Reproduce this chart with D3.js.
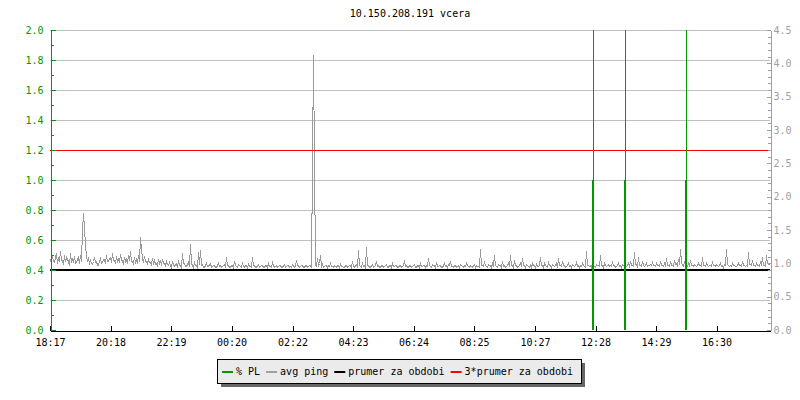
<!doctype html>
<html lang="en">
<head>
<meta charset="utf-8">
<title>10.150.208.191 vcera</title>
<script src="https://cdn.jsdelivr.net/npm/d3@7"></script>
<style>
  body { margin: 0; background: #fff; }
  svg { font-family: "DejaVu Sans Mono", monospace; font-size: 10px; }
  .axis path, .axis line { shape-rendering: crispEdges; }
</style>
</head>
<body>
<svg id="chart" width="800" height="400"></svg>
<script>
// --- data ---
var title = "10.150.208.191 vcera";
// x tick labels and their offsets in minutes from 18:17
var tickLabels = ["18:17","20:18","22:19","00:20","02:22","04:23","06:24","08:25","10:27","12:28","14:29","16:30"];
var tickMinutes = [0, 121, 242, 363, 485, 606, 727, 848, 970, 1091, 1212, 1333];

// packet loss events (minutes from start, % PL)
var plMinutes = [1085, 1149, 1272];
var plValues = [1.0, 1.0, 1.0];

// avg ping (ms), one sample every 2 minutes
var pingStep = 2;
var pingValues = [
  1.06,1.01,1.12,1.04,1.02,1.09,1.15,1.00,1.08,1.03,1.18,1.05,1.05,0.99,1.12,1.03,1.10,1.06,1.04,0.98,
  1.15,1.02,1.07,1.04,1.11,1.00,1.02,1.06,1.09,1.01,1.13,1.03,1.50,1.76,1.55,1.28,1.12,1.04,1.08,1.01,
  1.05,1.00,0.99,1.04,1.10,1.02,1.04,0.98,0.97,1.03,1.08,1.01,1.02,1.06,1.06,1.00,1.12,1.04,1.03,1.08,
  1.09,1.02,1.16,1.05,1.05,1.00,1.11,1.03,1.07,1.02,1.14,1.06,1.03,1.00,1.10,1.04,1.06,1.01,1.13,1.05,
  1.18,1.03,1.04,1.00,1.09,1.02,1.06,1.01,1.12,1.03,1.40,1.22,1.08,1.02,1.11,1.04,1.03,1.00,1.07,1.02,
  1.02,0.99,1.08,1.01,1.05,0.99,1.01,0.98,1.06,1.00,1.03,0.99,1.07,1.00,1.00,0.97,1.04,0.99,0.98,1.02,
  0.98,0.95,1.03,0.97,0.96,0.99,1.01,0.95,1.05,0.98,0.97,0.95,1.15,1.00,1.00,0.96,0.96,0.99,1.02,0.96,
  1.29,1.00,0.98,0.95,1.02,0.97,0.97,0.95,1.17,0.99,1.20,0.97,0.99,0.95,0.95,0.98,1.01,0.96,0.96,0.99,
  1.00,0.95,0.96,0.98,0.98,0.95,0.95,0.97,1.01,0.96,0.97,0.95,0.96,0.98,0.99,0.95,1.10,0.97,0.97,0.95,
  0.95,0.97,0.98,0.95,1.04,0.97,0.96,0.95,0.99,0.97,0.96,0.95,1.00,0.96,0.95,0.98,0.97,0.95,0.99,0.96,
  0.96,0.95,1.09,0.97,0.97,0.95,0.95,0.98,0.99,0.95,0.96,0.97,0.98,0.95,0.95,0.97,0.97,0.95,1.00,0.96,
  0.96,0.95,1.02,0.97,0.95,0.96,0.98,0.95,0.96,0.97,0.97,0.95,0.95,0.98,0.99,0.95,0.96,0.97,0.98,0.95,
  0.96,0.95,0.99,0.97,0.95,0.96,1.05,0.97,0.97,0.95,0.96,0.98,0.98,0.95,0.95,0.97,0.97,0.95,0.96,0.98,
  0.98,0.95,2.52,4.12,2.52,0.97,0.96,1.08,0.97,1.00,1.13,0.96,0.99,0.95,0.96,0.97,0.98,0.95,0.97,0.96,
  1.00,0.96,0.96,0.95,0.98,0.96,0.95,0.97,0.97,0.95,0.99,0.96,0.96,0.95,0.95,0.97,0.98,0.95,0.96,0.97,
  0.97,0.95,1.03,0.96,0.95,0.98,0.99,0.95,1.20,0.97,0.96,0.95,1.00,0.96,0.98,0.95,1.25,0.98,0.97,0.95,
  0.95,0.97,0.99,0.95,0.96,0.98,1.03,0.96,0.97,0.95,0.95,0.98,0.98,0.95,0.96,0.97,0.99,0.95,0.95,0.97,
  0.97,0.95,1.00,0.96,0.96,0.97,0.98,0.95,0.95,0.97,0.97,0.95,0.96,0.98,1.05,0.96,0.97,0.95,0.95,0.98,
  0.98,0.95,0.96,0.97,0.99,0.95,0.95,0.98,0.97,0.95,1.00,0.96,0.96,0.97,0.98,0.95,0.97,0.96,1.08,0.97,
  0.96,0.95,0.99,0.97,0.97,0.95,1.02,0.96,0.96,0.98,0.98,0.95,0.95,0.97,1.00,0.96,0.97,0.95,0.99,0.97,
  1.03,0.96,0.96,0.95,0.98,0.97,0.95,0.96,0.97,0.95,0.99,0.97,0.96,0.95,0.98,0.96,1.00,0.97,0.96,0.95,
  0.97,0.96,0.95,0.98,0.99,0.95,0.97,0.96,0.96,0.95,1.21,0.98,0.98,0.96,1.02,0.97,0.96,0.95,0.99,0.97,
  0.97,0.95,1.00,0.97,1.12,0.98,0.96,0.95,0.99,0.97,0.97,0.95,1.03,0.96,0.98,0.95,0.96,0.97,1.01,0.96,
  1.12,0.98,0.97,0.95,1.05,0.97,0.98,0.95,0.96,0.98,1.00,0.96,1.08,0.97,0.97,0.95,0.99,0.97,0.96,0.95,
  0.98,0.95,1.01,0.97,0.97,0.95,0.99,0.96,0.96,0.98,1.09,0.97,0.98,0.95,1.00,0.97,0.96,0.95,1.02,0.97,
  0.97,0.95,0.99,0.97,0.96,0.98,1.00,0.95,1.08,0.97,0.97,0.96,1.03,0.97,0.98,0.95,0.96,0.98,1.00,0.96,
  0.97,0.95,0.99,0.97,0.96,0.98,1.02,0.96,0.98,0.95,0.97,0.96,1.00,0.97,0.96,0.95,1.18,0.98,0.98,0.96,
  0.97,0.95,1.01,0.97,0.96,0.95,0.99,0.97,0.98,0.96,1.12,0.98,0.97,0.95,1.00,0.97,0.96,0.98,0.99,0.96,
  0.97,0.96,1.02,0.97,0.98,0.95,0.96,0.98,1.00,0.96,0.97,0.95,0.99,0.97,0.98,0.96,0.96,0.97,1.01,0.96,
  1.04,0.97,0.97,0.96,1.17,0.99,0.99,0.96,1.10,0.98,0.98,0.96,1.03,0.97,0.96,0.98,1.00,0.96,0.98,0.97,
  0.99,0.97,1.02,0.98,0.97,0.96,1.00,0.97,0.98,0.96,1.04,0.98,0.97,0.96,1.01,0.98,1.08,0.97,0.98,0.96,
  1.03,0.98,0.97,0.96,1.05,0.99,1.00,0.97,1.06,0.99,1.21,1.02,0.98,0.96,1.04,0.98,0.97,0.96,1.00,0.97,
  1.05,0.98,0.97,0.96,0.99,0.97,0.96,0.98,1.01,0.97,0.98,0.96,1.10,0.98,0.97,0.96,1.00,0.97,0.96,0.98,
  0.98,0.96,1.02,0.97,0.97,0.96,0.99,0.97,0.96,0.98,1.00,0.96,0.97,0.95,0.99,0.97,1.21,0.99,0.98,0.96,
  0.97,0.96,1.01,0.97,0.98,0.96,0.96,0.98,1.00,0.97,0.97,0.96,1.03,0.98,0.98,0.96,0.97,0.96,1.17,0.99,
  0.99,0.97,1.05,0.98,0.97,0.96,1.00,0.97,0.98,0.96,1.02,0.97,1.10,0.98,0.98,0.96,1.13,1.00,1.00,0.97
];
// period average of ping (ms)
var avgPing = 0.9;

var legendLabels = ["% PL", "avg ping", "prumer za obdobi", "3*prumer za obdobi"];
var legendColors = ["#009900", "#a0a0a0", "#000000", "#ff0000"];

// --- layout ---
var plotL = 50, plotR = 770, plotT = 30, plotB = 330;
var green = "#009900", grey = "#999999", gridColor = "#c0c0c0";

var svg = d3.select("#chart");

var x = d3.scaleLinear().domain([0, 1440]).range([plotL, plotR]);
var yL = d3.scaleLinear().domain([0, 2]).range([plotB, plotT]);
var yR = d3.scaleLinear().domain([0, 4.5]).range([plotB, plotT]);

// title
svg.append("text").attr("x", (plotL + plotR) / 2).attr("y", 17)
  .attr("text-anchor", "middle").attr("fill", "#000").text(title);

// grid
var majorL = d3.range(0, 21, 2).map(function(d) { return d / 10; });
svg.append("g").selectAll("line").data(majorL.filter(function(d) { return d > 0; }))
  .enter().append("line")
  .attr("x1", plotL).attr("x2", plotR)
  .attr("y1", function(d) { return Math.round(yL(d)) + 0.5; })
  .attr("y2", function(d) { return Math.round(yL(d)) + 0.5; })
  .attr("stroke", gridColor);

// avg ping line (right axis), drawn aliased like the original
var line = d3.line()
  .x(function(d, i) { return Math.round(x(i * pingStep)) + 0.5; })
  .y(function(d) { return Math.round(yR(d)) + 0.5; });
svg.append("path").datum(pingValues)
  .attr("d", line).attr("fill", "none")
  .attr("stroke", grey).attr("stroke-width", 1)
  .style("shape-rendering", "crispEdges");

// mean and 3*mean
svg.append("line").attr("x1", plotL).attr("x2", plotR)
  .attr("y1", yR(avgPing)).attr("y2", yR(avgPing))
  .attr("stroke", "#000").attr("stroke-width", 2);
svg.append("line").attr("x1", plotL).attr("x2", plotR)
  .attr("y1", Math.round(yR(avgPing * 3)) + 0.5).attr("y2", Math.round(yR(avgPing * 3)) + 0.5)
  .attr("stroke", "#ff0000").attr("stroke-width", 1);

// packet loss
var pl = svg.append("g");
plMinutes.forEach(function(m, i) {
  var px = Math.round(x(m));
  pl.append("line").attr("x1", px + 0.5).attr("x2", px + 0.5)
    .attr("y1", plotT).attr("y2", yL(plValues[i]))
    .attr("stroke", green).attr("stroke-width", 1);
  pl.append("line").attr("x1", px).attr("x2", px)
    .attr("y1", yL(plValues[i])).attr("y2", plotB)
    .attr("stroke", green).attr("stroke-width", 2);
});

// left axis
var minorL = d3.range(0, 21).map(function(d) { return d / 10; });
var gl = svg.append("g").attr("class", "axis").attr("transform", "translate(" + (plotL + 0.5) + ",0)");
gl.call(d3.axisLeft(yL).tickValues(minorL).tickFormat("").tickSizeInner(-3).tickSizeOuter(0));
gl.append("g").call(d3.axisLeft(yL).tickValues(majorL).tickFormat(d3.format(".1f")).tickSizeInner(-5).tickSizeOuter(0).tickPadding(7));
gl.selectAll("path, line").attr("stroke", green);
gl.selectAll("text").attr("fill", green).style("font-size", "10px").style("font-family", "DejaVu Sans Mono, monospace");

// right axis
var minorR = d3.range(0, 46).map(function(d) { return d / 10; });
var majorR = d3.range(0, 10).map(function(d) { return d / 2; });
var gr = svg.append("g").attr("class", "axis").attr("transform", "translate(" + (plotR + 0.5) + ",0)");
gr.call(d3.axisRight(yR).tickValues(minorR).tickFormat("").tickSizeInner(-3).tickSizeOuter(0));
gr.append("g").call(d3.axisRight(yR).tickValues(majorR).tickFormat(d3.format(".1f")).tickSizeInner(-4).tickSizeOuter(0).tickPadding(3));
gr.selectAll("path, line").attr("stroke", "#a0a0a0");
gr.selectAll("text").attr("fill", "#a0a0a0").style("font-size", "10px").style("font-family", "DejaVu Sans Mono, monospace");

// bottom axis
var gb = svg.append("g").attr("class", "axis").attr("transform", "translate(0," + (plotB + 0.5) + ")");
gb.call(d3.axisBottom(x).tickValues(tickMinutes)
  .tickFormat(function(d, i) { return tickLabels[i]; })
  .tickSizeInner(-5).tickSizeOuter(0).tickPadding(8));
gb.selectAll("path, line").attr("stroke", "#000");
gb.selectAll("text").attr("fill", "#000").style("font-size", "10px").style("font-family", "DejaVu Sans Mono, monospace");

// legend
var lx = 217, ly = 359, lw = 364, lh = 24;
svg.append("rect").attr("x", lx + 4).attr("y", ly + 4).attr("width", lw).attr("height", lh).attr("fill", "#666");
svg.append("rect").attr("x", lx + 0.5).attr("y", ly + 0.5).attr("width", lw).attr("height", lh)
  .attr("fill", "#ebebeb").attr("stroke", "#000");
var cx = 222;
legendLabels.forEach(function(lbl, i) {
  svg.append("rect").attr("x", cx).attr("y", 371).attr("width", 11).attr("height", 2).attr("fill", legendColors[i]);
  var t = svg.append("text").attr("x", cx + 14).attr("y", 375).attr("fill", "#000").text(lbl);
  cx += 14 + t.node().getComputedTextLength() + 6;
});
</script>
</body>
</html>
